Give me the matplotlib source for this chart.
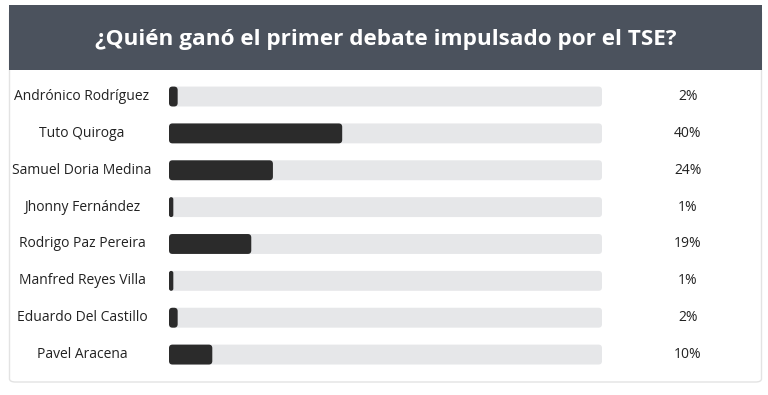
import matplotlib
matplotlib.use("Agg")
import matplotlib.pyplot as plt
from matplotlib.patches import FancyBboxPatch, Rectangle
import matplotlib.transforms as mtransforms
from matplotlib import font_manager

names = ["Andrónico Rodríguez", "Tuto Quiroga", "Samuel Doria Medina",
         "Jhonny Fernández", "Rodrigo Paz Pereira", "Manfred Reyes Villa",
         "Eduardo Del Castillo", "Pavel Aracena"]
values = [2, 40, 24, 1, 19, 1, 2, 10]
title = "¿Quién ganó el primer debate impulsado por el TSE?"

avail = set(f.name for f in font_manager.fontManager.ttflist)
fam = "Liberation Sans Narrow" if "Liberation Sans Narrow" in avail else "Open Sans"
plt.rcParams["font.family"] = [fam, "DejaVu Sans"]

W, H = 768, 395
fig = plt.figure(figsize=(W / 100, H / 100), dpi=100)
fig.patch.set_facecolor("white")

# card with border and header
card = FancyBboxPatch((9.5 / W, (H - 382) / H), 752 / W, 372 / H,
                      boxstyle="round,pad=0,rounding_size=0.008",
                      transform=fig.transFigure, facecolor="white",
                      edgecolor="#e3e3e3", lw=1, zorder=-2)
fig.patches.append(card)
fig.patches.append(Rectangle((9 / W, (H - 70) / H), 753 / W, 65 / H,
                             transform=fig.transFigure, facecolor="#4b525d",
                             edgecolor="none", zorder=-1))
fig.text(386 / W, (H - 40) / H, title, color="white", fontsize=16.2,
         fontweight="bold", ha="center", va="center")

ax = fig.add_axes([169 / W, 1 - 373 / H, 433 / W, 294.9 / H])
ax.set_zorder(2)
ax.set_xlim(0, 100)
ax.set_ylim(len(names) - 0.5, -0.5)
ax.axis("off")

ys = list(range(len(names)))
bh = 0.54
track = ax.barh(ys, [100] * len(names), height=bh, color="none")
bars = ax.barh(ys, values, height=bh, color="none")

# rounded versions of the bars
px_x = 100 / 433            # data units per pixel in x
px_y = 1 / 36.86            # data units per pixel in y
aspect = px_y / px_x
r_px = 3.5
for group, col in [(track, "#e6e7e9"), (bars, "#2b2b2b")]:
    for p in group:
        x0, y0 = p.get_x(), p.get_y()
        w, h = p.get_width(), p.get_height()
        r = min(r_px * px_x, w / 2)
        ax.add_patch(FancyBboxPatch((x0, y0), w, h,
                                    boxstyle=f"round,pad=0,rounding_size={r}",
                                    mutation_aspect=aspect, facecolor=col,
                                    edgecolor="none"))

tr = mtransforms.blended_transform_factory(ax.transAxes, ax.transData)
for y, n, v in zip(ys, names, values):
    ax.text((82 - 169) / 433, y, n, transform=tr, ha="center", va="center",
            fontsize=10, color="#222222", clip_on=False)
    ax.text((688 - 169) / 433, y, f"{v}%", transform=tr, ha="center",
            va="center", fontsize=10, color="#222222", clip_on=False)

fig.savefig("out.png", dpi=100, facecolor="white")
